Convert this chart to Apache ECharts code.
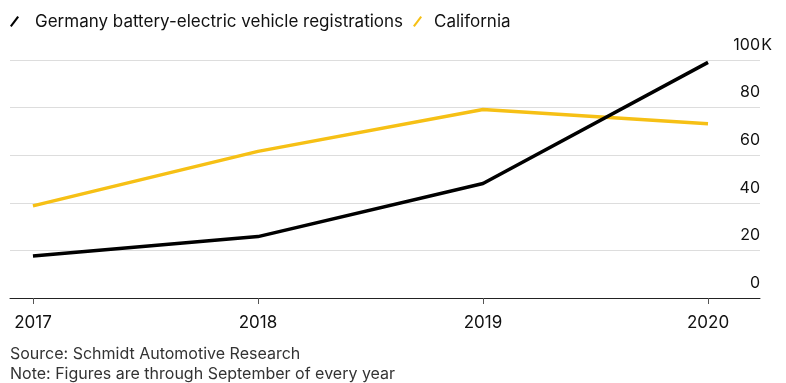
<!DOCTYPE html>
<html><head><meta charset="utf-8">
<script src="https://cdn.jsdelivr.net/npm/echarts@6/dist/echarts.min.js"></script>
<style>html,body{margin:0;padding:0;background:#fff}#c{width:786px;height:383px}</style>
</head><body><div id="c"></div>
<script>
const years = [2017, 2018, 2019, 2020];
const germany = [17.6, 25.8, 48.1, 99.0];
const california = [38.7, 61.6, 79.2, 73.2];
const yTicks = [0, 20, 40, 60, 80, 100];
const seriesNames = ['Germany battery-electric vehicle registrations', 'California'];
const footer = ['Source: Schmidt Automotive Research', 'Note: Figures are through September of every year'];

const FONT = 'Inter';
const chart = echarts.init(document.getElementById('c'));
const icon = 'path://M0,10.5 L8,0 L9.8,1.5 L1.8,12 Z';
chart.setOption({
  animation: false,
  textStyle: { fontFamily: FONT },
  legend: {
    left: 10, top: 13, padding: 0, itemWidth: 9, itemHeight: 12, itemGap: 10,
    textStyle: { fontSize: 17, color: '#111', fontFamily: FONT, padding: [0, 0, 0, 11] },
    data: [
      { name: seriesNames[0], icon: icon, itemStyle: { color: '#000' } },
      { name: seriesNames[1], icon: icon, itemStyle: { color: '#f6c015' },
        textStyle: { fontSize: 17, color: '#111', fontFamily: FONT, padding: [0, 0, 0, 7] } }
    ]
  },
  title: {
    left: 10, top: 344, padding: 0,
    text: footer.join('\n'),
    textStyle: { fontSize: 16, fontWeight: 'normal', color: '#333', lineHeight: 20, fontFamily: FONT }
  },
  grid: { left: 10, right: 26, top: 60, bottom: 85 },
  xAxis: {
    type: 'value',
    min: 2016.898, max: 2020.231,
    axisLine: { show: true, lineStyle: { color: '#222', width: 1 } },
    axisTick: { show: true, length: 6, lineStyle: { color: '#555' }, customValues: years },
    axisLabel: { customValues: years, fontSize: 17, color: '#111', margin: 16, formatter: v => String(v) },
    splitLine: { show: false }
  },
  yAxis: {
    type: 'value', position: 'right', min: 0, max: 100, interval: 20,
    axisLine: { show: false }, axisTick: { show: false },
    splitLine: { show: true, lineStyle: { color: '#ddd', width: 1 } },
    axisLabel: {
      inside: true, margin: -13, align: 'right', verticalAlign: 'bottom',
      fontSize: 16, color: '#111',
      formatter: v => v === 100 ? '{n|100}{s|K}' : '{n|' + v + '}{s|}',
      rich: {
        n: { fontSize: 16, color: '#111', fontFamily: FONT, padding: [0, 0, 7, 0] },
        s: { fontSize: 16, color: '#111', fontFamily: FONT, width: 13, align: 'left', padding: [0, 0, 7, 0] }
      }
    }
  },
  series: [
    { name: seriesNames[0], type: 'line', data: years.map((y, i) => [y, germany[i]]),
      showSymbol: false, lineStyle: { color: '#000', width: 3.5 }, itemStyle: { color: '#000' }, z: 3 },
    { name: seriesNames[1], type: 'line', data: years.map((y, i) => [y, california[i]]),
      showSymbol: false, lineStyle: { color: '#f6c015', width: 3.5 }, itemStyle: { color: '#f6c015' }, z: 2 }
  ]
});
</script></body></html>
